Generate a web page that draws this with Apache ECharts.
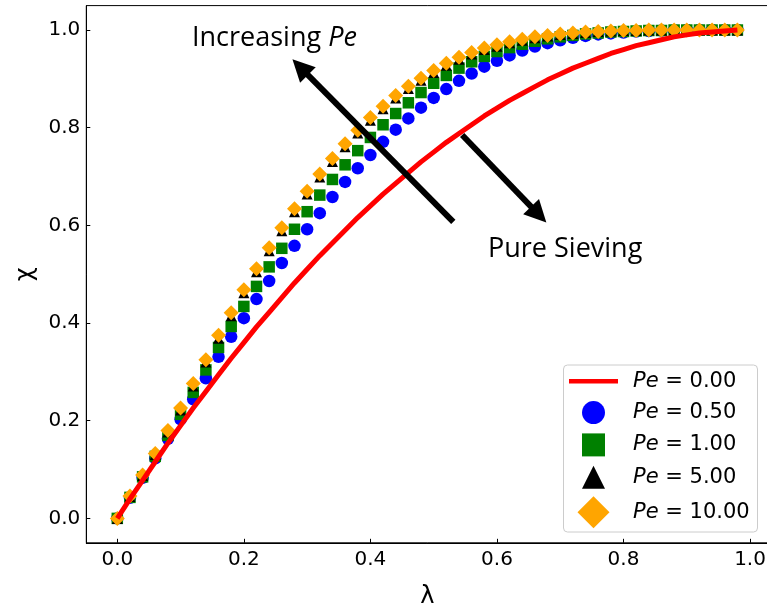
<!DOCTYPE html>
<html>
<head>
<meta charset="utf-8">
<script src="https://cdn.jsdelivr.net/npm/echarts@6/dist/echarts.min.js"></script>
<style>
  html, body { margin: 0; padding: 0; background: #fff; }
  #chart { width: 767px; height: 611px; }
</style>
</head>
<body>
<div id="chart"></div>
<script>
// λ sample points
var lambdaVals = [0.00, 0.02, 0.04, 0.06, 0.08, 0.10, 0.12, 0.14, 0.16, 0.18,
                  0.20, 0.22, 0.24, 0.26, 0.28, 0.30, 0.32, 0.34, 0.36, 0.38,
                  0.40, 0.42, 0.44, 0.46, 0.48, 0.50, 0.52, 0.54, 0.56, 0.58,
                  0.60, 0.62, 0.64, 0.66, 0.68, 0.70, 0.72, 0.74, 0.76, 0.78,
                  0.80, 0.82, 0.84, 0.86, 0.88, 0.90, 0.92, 0.94, 0.96, 0.98];

// χ for each Pe
var chiPe0 = [0, 0.040, 0.078, 0.116, 0.154, 0.190, 0.226, 0.260, 0.294, 0.328,
              0.360, 0.392, 0.422, 0.452, 0.482, 0.510, 0.538, 0.564, 0.590, 0.616,
              0.640, 0.664, 0.686, 0.708, 0.730, 0.750, 0.770, 0.788, 0.806, 0.824,
              0.840, 0.856, 0.870, 0.884, 0.898, 0.910, 0.922, 0.932, 0.942, 0.952,
              0.960, 0.968, 0.974, 0.980, 0.986, 0.990, 0.994, 0.996, 0.998, 1.000];
var chiPe05 = [0, 0.042, 0.083, 0.123, 0.163, 0.203, 0.244, 0.287, 0.331, 0.372,
               0.410, 0.449, 0.486, 0.523, 0.558, 0.592, 0.625, 0.658, 0.689, 0.717,
               0.744, 0.771, 0.796, 0.819, 0.841, 0.861, 0.879, 0.896, 0.911, 0.925,
               0.937, 0.948, 0.958, 0.966, 0.973, 0.979, 0.984, 0.988, 0.991, 0.993,
               0.995, 0.997, 0.998, 0.999, 0.999, 1.000, 1.000, 1.000, 1.000, 1.000];
var chiPe1 = [0, 0.043, 0.085, 0.127, 0.170, 0.213, 0.258, 0.304, 0.350, 0.393,
              0.434, 0.475, 0.515, 0.553, 0.592, 0.628, 0.662, 0.694, 0.724, 0.753,
              0.780, 0.806, 0.829, 0.851, 0.872, 0.891, 0.907, 0.922, 0.935, 0.946,
              0.956, 0.964, 0.971, 0.977, 0.982, 0.986, 0.989, 0.992, 0.994, 0.996,
              0.997, 0.998, 0.999, 0.999, 1.000, 1.000, 1.000, 1.000, 1.000, 1.000];
var chiPe5 = [0, 0.045, 0.088, 0.131, 0.177, 0.222, 0.271, 0.320, 0.369, 0.415,
              0.462, 0.505, 0.548, 0.589, 0.628, 0.664, 0.699, 0.731, 0.761, 0.789,
              0.815, 0.839, 0.861, 0.880, 0.897, 0.913, 0.928, 0.940, 0.951, 0.960,
              0.967, 0.974, 0.979, 0.984, 0.988, 0.991, 0.993, 0.995, 0.997, 0.998,
              0.999, 0.999, 1.000, 1.000, 1.000, 1.000, 1.000, 1.000, 1.000, 1.000];
var chiPe10 = [0, 0.046, 0.089, 0.133, 0.180, 0.226, 0.276, 0.325, 0.375, 0.421,
               0.468, 0.511, 0.554, 0.595, 0.634, 0.670, 0.705, 0.737, 0.767, 0.795,
               0.821, 0.844, 0.866, 0.885, 0.901, 0.917, 0.932, 0.944, 0.954, 0.963,
               0.970, 0.976, 0.981, 0.986, 0.989, 0.992, 0.994, 0.996, 0.997, 0.998,
               0.999, 0.999, 1.000, 1.000, 1.000, 1.000, 1.000, 1.000, 1.000, 1.000];

var seriesNames = ['Pe = 0.00', 'Pe = 0.50', 'Pe = 1.00', 'Pe = 5.00', 'Pe = 10.00'];
var tickVals = [0, 0.2, 0.4, 0.6, 0.8, 1.0];

// arrow annotations, in data coords [start, end]
var arrowIncreasing = [[0.531, 0.607], [0.289, 0.924]];
var arrowSieving = [[0.545, 0.785], [0.666, 0.622]];

function pairs(ys) {
    return lambdaVals.map(function (x, i) { return [x, ys[i]]; });
}

var tickFont = 'DejaVu Sans';
var noteFont = 'Open Sans';

var chart = echarts.init(document.getElementById('chart'));

var squarePath = 'path://M0,0L1,0L1,1L0,1Z';
var trianglePath = 'path://M0.5,0L1,1L0,1Z';
var diamondPath = 'path://M0.5,0L1,0.5L0.5,1L0,0.5Z';
var barPath = 'path://M0,0L49,0L49,4.5L0,4.5Z';

var legendText = {
    fontFamily: tickFont,
    fontSize: 21,
    color: '#000',
    padding: [0, 0, 0, 10],
    rich: {
        i: { fontFamily: tickFont, fontSize: 21, fontStyle: 'italic', color: '#000' }
    }
};
function legendFmt(name) { return '{i|Pe}' + name.slice(2); }

chart.setOption({
    animation: false,
    backgroundColor: '#fff',
    grid: {
        left: 86.3, top: 5.6, width: 682.1, height: 537.2,
        outerBoundsMode: 'none',
        show: true, borderColor: '#000', borderWidth: 1, backgroundColor: 'transparent'
    },
    xAxis: {
        type: 'value',
        min: -0.049, max: 1.029,
        name: 'λ',
        nameLocation: 'middle',
        nameGap: 42,
        nameTextStyle: { fontFamily: tickFont, fontSize: 24, color: '#000' },
        axisLine: { onZero: false, lineStyle: { color: '#000', width: 1 } },
        axisTick: { inside: true, length: 4, customValues: tickVals, lineStyle: { color: '#000' } },
        axisLabel: {
            customValues: tickVals, margin: 7,
            fontFamily: tickFont, fontSize: 20, color: '#000',
            formatter: function (v) { return v.toFixed(1); }
        },
        splitLine: { show: false }
    },
    yAxis: {
        type: 'value',
        min: -0.05, max: 1.05,
        name: 'χ',
        nameLocation: 'middle',
        nameGap: 46,
        nameTextStyle: { fontFamily: tickFont, fontSize: 24, color: '#000' },
        axisLine: { show: true, onZero: false, lineStyle: { color: '#000', width: 1 } },
        axisTick: { show: true, inside: true, length: 4, customValues: tickVals, lineStyle: { color: '#000' } },
        axisLabel: {
            customValues: tickVals, margin: 6,
            fontFamily: tickFont, fontSize: 20, color: '#000',
            formatter: function (v) { return v.toFixed(1); }
        },
        splitLine: { show: false }
    },
    legend: [
        {
            orient: 'vertical', left: 569, top: 370.8, padding: 0,
            itemWidth: 49, itemHeight: 23, itemGap: 9.3,
            symbolKeepAspect: true,
            selectedMode: false,
            data: [
                { name: seriesNames[0], icon: barPath, itemStyle: { color: '#ff0000' } },
                { name: seriesNames[1], icon: 'circle' },
                { name: seriesNames[2], icon: squarePath },
                { name: seriesNames[3], icon: trianglePath }
            ],
            formatter: legendFmt,
            textStyle: legendText
        },
        {
            // diamond icon is inset 8.5px inside its 49px slot
            orient: 'vertical', left: 577.5, top: 496.3, padding: 0,
            itemWidth: 49, itemHeight: 32,
            symbolKeepAspect: true,
            selectedMode: false,
            data: [{ name: seriesNames[4], icon: diamondPath }],
            formatter: legendFmt,
            textStyle: legendText
        }
    ],
    graphic: [
        {
            type: 'rect', z: -1,
            shape: { x: 563.5, y: 365, width: 194, height: 167, r: 4 },
            style: { fill: 'rgba(255,255,255,0.8)', stroke: '#cccccc', lineWidth: 1 }
        },
        {
            type: 'text', z: 100,
            style: {
                x: 192, y: 38, text: '{a|Increasing }{b|Pe}', verticalAlign: 'middle',
                rich: {
                    a: { fontFamily: noteFont, fontSize: 27, fill: '#000' },
                    b: { fontFamily: noteFont, fontSize: 27, fontStyle: 'italic', fill: '#000' }
                }
            }
        },
        {
            type: 'text', z: 100,
            style: {
                x: 488, y: 249, text: 'Pure Sieving', verticalAlign: 'middle',
                fontFamily: noteFont, fontSize: 27, fill: '#000'
            }
        }
    ],
    series: [
        {
            name: seriesNames[1], type: 'scatter', data: pairs(chiPe05),
            symbol: 'circle', symbolSize: 12.5, z: 2,
            itemStyle: { color: '#0000ff', opacity: 1 }
        },
        {
            name: seriesNames[2], type: 'scatter', data: pairs(chiPe1),
            symbol: 'rect', symbolSize: 11.5, z: 2,
            itemStyle: { color: '#008000', opacity: 1 }
        },
        {
            name: seriesNames[3], type: 'scatter', data: pairs(chiPe5),
            symbol: 'triangle', symbolSize: 11, z: 2,
            itemStyle: { color: '#000000', opacity: 1 }
        },
        {
            name: seriesNames[4], type: 'scatter', data: pairs(chiPe10),
            symbol: 'diamond', symbolSize: 15, z: 2,
            itemStyle: { color: '#ffa500', opacity: 1 }
        },
        {
            name: seriesNames[0], type: 'line', data: pairs(chiPe0),
            showSymbol: false, symbol: 'none', z: 3,
            lineStyle: { color: '#ff0000', width: 5 },
            itemStyle: { color: '#ff0000' },
            markLine: {
                silent: true,
                symbol: ['none', 'triangle'],
                symbolSize: [22, 22],
                label: { show: false },
                lineStyle: { color: '#000', width: 6, type: 'solid' },
                itemStyle: { color: '#000' },
                emphasis: { disabled: true },
                data: [
                    [{ coord: arrowIncreasing[0] }, { coord: arrowIncreasing[1] }],
                    [{ coord: arrowSieving[0] }, { coord: arrowSieving[1] }]
                ]
            }
        }
    ]
});
</script>
</body>
</html>
